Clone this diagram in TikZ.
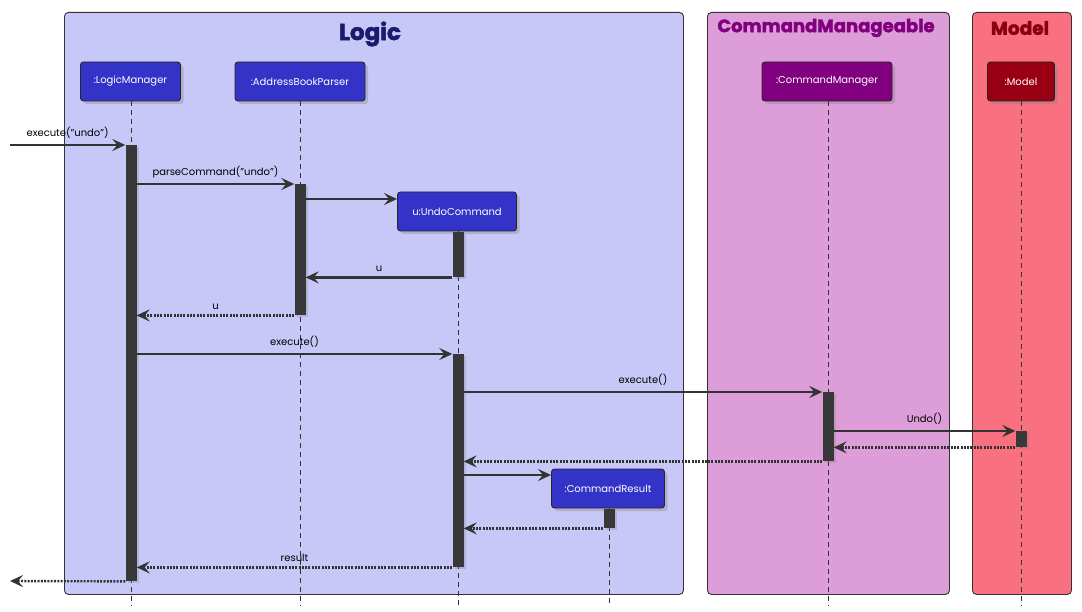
\documentclass[tikz,border=0pt]{standalone}
\usepackage{fontspec}
\setmainfont{Poppins}
\newfontfamily\titlefont[BoldFeatures={FakeBold=2}]{Poppins}
\usetikzlibrary{arrows.meta,shadows}
\definecolor{logicbg}{HTML}{C8C8F8}
\definecolor{cmbg}{HTML}{DD9DD8}
\definecolor{modelbg}{HTML}{F97181}
\definecolor{logict}{HTML}{1A1A6E}
\definecolor{cmt}{HTML}{800080}
\definecolor{modelt}{HTML}{8B0010}
\definecolor{partblue}{HTML}{3333C8}
\definecolor{partpurple}{HTML}{800080}
\definecolor{partred}{HTML}{9A0014}
\definecolor{actc}{HTML}{383838}
\definecolor{linec}{HTML}{333333}
\tikzset{
  boxframe/.style={draw=linec, line width=0.9pt, rounded corners=4pt},
  boxtitle/.style={font=\titlefont\bfseries\fontsize{23}{25}\selectfont},
  part/.style={draw=black!85, line width=0.9pt, rounded corners=3pt, text=white,
    font=\fontsize{10}{12}\selectfont, minimum height=39pt, inner xsep=4pt,
    drop shadow={shadow xshift=3pt, shadow yshift=-3pt, opacity=0.35}},
  act/.style={fill=actc, draw=none, minimum width=11pt, inner sep=0pt,
    drop shadow={shadow xshift=2pt, shadow yshift=-2pt, opacity=0.3}},
  life/.style={draw=linec, line width=0.8pt, dash pattern=on 5pt off 4pt},
  msg/.style={draw=linec, line width=2.4pt, -{Stealth[length=13pt,width=12pt,inset=5pt]}},
  ret/.style={msg, dash pattern=on 2pt off 1.3pt},
  lbl/.style={font=\fontsize{10}{12}\selectfont, text=black, inner sep=1pt}
}
\begin{document}
\begin{tikzpicture}[x=1pt,y=-1pt]
\useasboundingbox (0,0) rectangle (1082,612);
% groups
\node[boxframe, fill=logicbg, minimum width=619pt, minimum height=582pt, anchor=north west] (logic) at (64,12) {};
\node[boxframe, fill=cmbg, minimum width=242pt, minimum height=582pt, anchor=north west] (cmg) at (707,12) {};
\node[boxframe, fill=modelbg, minimum width=99pt, minimum height=582pt, anchor=north west] (modg) at (972,12) {};
\node[boxtitle, text=logict] (logict) at (370,34) {Logic};
\node[boxtitle, text=cmt, font=\titlefont\bfseries\fontsize{18}{20}\selectfont] (cmtt) at (826,28) {CommandManageable};
\node[boxtitle, text=modelt, font=\titlefont\bfseries\fontsize{18.5}{20}\selectfont] (modtt) at (1020,28) {Model};
% participants
\node[part, fill=partblue, minimum width=100pt] (lm) at (130.5,81.5) {:LogicManager};
\node[part, fill=partblue, minimum width=130pt] (abp) at (300,81.5) {:AddressBookParser};
\node[part, fill=partblue, minimum width=119pt] (uc) at (457,211.5) {u:UndoCommand};
\node[part, fill=partpurple, minimum width=130pt] (cm) at (827,81.5) {:CommandManager};
\node[part, fill=partred, minimum width=67pt] (mo) at (1021,81.5) {:Model};
\node[part, fill=partblue, minimum width=113pt] (cr) at (608,488.5) {:CommandResult};
% lifeline ends
\coordinate (lmE) at (131,606);
\coordinate (abpE) at (300,606);
\coordinate (ucE) at (458,606);
\coordinate (cmE) at (828,606);
\coordinate (moE) at (1021,606);
\coordinate (crE) at (609,606);
\draw[life] (lm.south -| lmE) -- (lmE);
\draw[life] (abp.south -| abpE) -- (abpE);
\draw[life] (uc.south -| ucE) -- (ucE);
\draw[life] (cm.south -| cmE) -- (cmE);
\draw[life] (mo.south -| moE) -- (moE);
\draw[life] (cr.south -| crE) -- (crE);
% activations
\node[act, minimum height=436pt, anchor=north] (a1) at (131,145) {};
\node[act, minimum height=131pt, anchor=north] (a2) at (300,184) {};
\node[act, minimum height=45pt, anchor=north] (a3) at (458,232) {};
\node[act, minimum height=213pt, anchor=north] (a4) at (458,354) {};
\node[act, minimum height=69pt, anchor=north] (a5) at (828,392) {};
\node[act, minimum height=16pt, anchor=north] (a6) at (1021,431) {};
\node[act, minimum height=19pt, anchor=north] (a7) at (609,509) {};
% free ends
\coordinate (inS) at (10,145);
\coordinate (outE) at (10,581);
% messages
\draw[msg] (inS) -- (a1.north west) node[lbl, pos=0.5, above=4pt] {execute("undo")};
\draw[msg] (a1.east |- 0,184) -- (a2.north west) node[lbl, midway, above=4pt] {parseCommand("undo")};
\draw[msg] (a2.east |- 0,199) -- (uc.west |- 0,199);
\draw[msg] (a3.south west) -- (a2.east |- a3.south) node[lbl, midway, above=4pt] {u};
\draw[ret] (a2.south west) -- (a1.east |- a2.south) node[lbl, midway, above=4pt] {u};
\draw[msg] (a1.east |- a4.north) -- (a4.north west) node[lbl, midway, above=4pt] {execute()};
\draw[msg] (a4.east |- a5.north) -- (a5.north west) node[lbl, midway, above=4pt] {execute()};
\draw[msg] (a5.east |- a6.north) -- (a6.north west) node[lbl, midway, above=4pt] {Undo()};
\draw[ret] (a6.south west) -- (a5.east |- a6.south);
\draw[ret] (a5.south west) -- (a4.east |- a5.south);
\draw[msg] (a4.east |- 0,475) -- (cr.west |- 0,475);
\draw[ret] (a7.south west) -- (a4.east |- a7.south);
\draw[ret] (a4.south west) -- (a1.east |- a4.south) node[lbl, midway, above=4pt] {result};
\draw[ret] (a1.south west) -- (outE);
\end{tikzpicture}
\end{document}
